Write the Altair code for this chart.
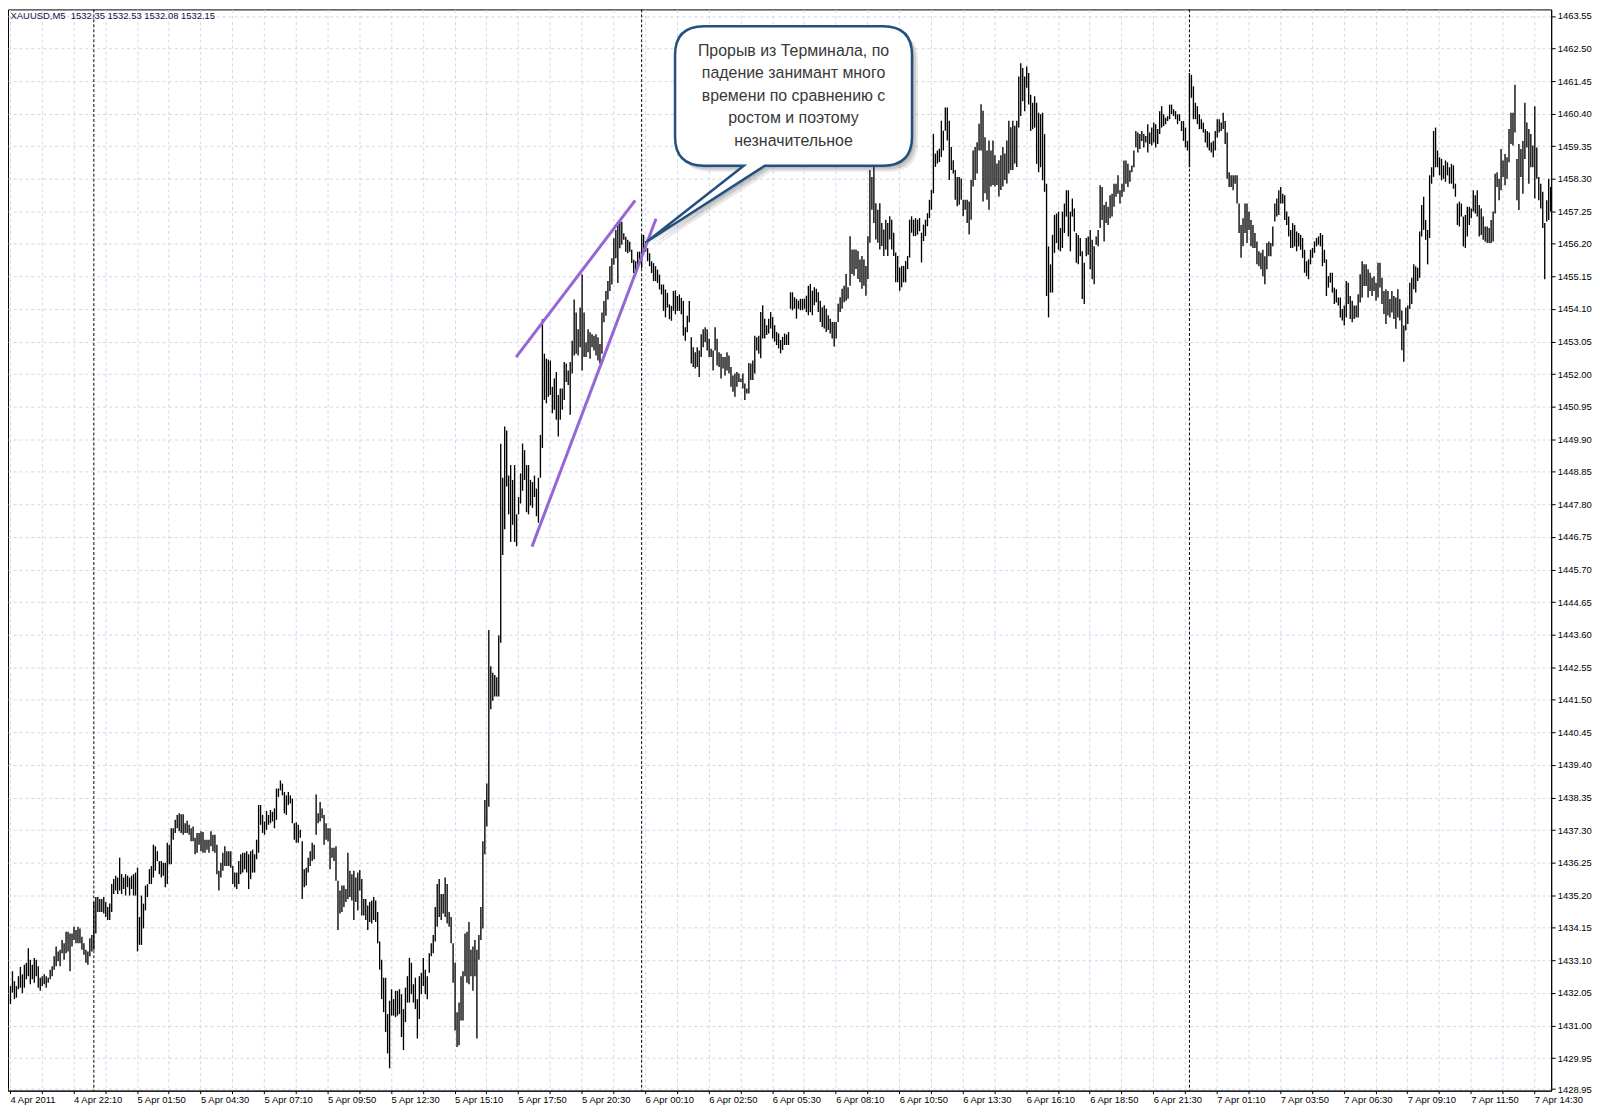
import json
import altair as alt
import pandas as pd

# ---------------- data (5-minute bars, high / low) ----------------
HIGH = [
    # 4 Apr 19:30 ... 5 Apr 15:30
    1432.27, 1432.75, 1432.43, 1432.27, 1432.59, 1432.89, 1432.65, 1432.96, 1433.02, 1433.49,
    1433.12, 1432.96, 1433.18, 1433.12, 1432.91, 1432.54, 1432.59, 1432.65, 1432.59, 1432.54,
    1432.80, 1432.91, 1433.23, 1433.55, 1433.39, 1433.44, 1433.76, 1433.65, 1434.02, 1434.02,
    1433.97, 1433.97, 1434.18, 1434.08, 1434.18, 1434.13, 1433.86, 1433.65, 1433.44, 1433.39,
    1433.81, 1433.92, 1434.98, 1435.14, 1435.14, 1435.08, 1435.08, 1435.14, 1434.98, 1434.82,
    1434.93, 1435.56, 1435.72, 1435.83, 1435.77, 1436.41, 1435.88, 1435.77, 1435.88, 1435.83,
    1435.77, 1435.83, 1435.88, 1435.93, 1436.09, 1434.50, 1435.19, 1434.93, 1435.51, 1435.56,
    1436.04, 1436.14, 1436.83, 1436.78, 1436.62, 1436.30, 1436.30, 1436.25, 1436.25, 1436.89,
    1436.83, 1437.36, 1437.36, 1437.63, 1437.79, 1437.84, 1437.81, 1437.81, 1437.52, 1437.60,
    1437.47, 1437.36, 1437.42, 1437.05, 1437.21, 1437.21, 1437.26, 1437.24, 1436.99, 1436.99,
    1436.99, 1437.26, 1437.15, 1437.15, 1436.83, 1435.99, 1436.25, 1436.57, 1436.78, 1436.62,
    1436.62, 1436.62, 1436.14, 1435.93, 1435.93, 1436.30, 1436.52, 1436.57, 1436.57, 1436.62,
    1436.52, 1436.62, 1436.67, 1436.52, 1436.99, 1438.11, 1438.11, 1437.79, 1437.58, 1437.92,
    1437.79, 1437.95, 1437.89, 1438.00, 1438.64, 1438.64, 1438.90, 1438.80, 1438.53, 1438.42,
    1438.53, 1438.42, 1438.32, 1437.52, 1437.55, 1437.47, 1437.31, 1436.94, 1436.04, 1436.09,
    1436.41, 1436.62, 1436.89, 1436.83, 1438.45, 1437.84, 1438.21, 1438.00, 1437.79, 1437.52,
    1437.36, 1437.36, 1436.73, 1436.73, 1436.78, 1435.67, 1435.35, 1435.51, 1435.51, 1435.40,
    1436.57, 1435.99, 1435.88, 1435.99, 1435.77, 1435.93, 1436.01, 1435.72, 1435.08, 1435.08,
    1434.87, 1434.98, 1435.03, 1435.14, 1435.03, 1434.66, 1433.71, 1433.12, 1432.54, 1432.54,
    1431.37, 1431.80, 1432.17, 1431.85, 1432.12, 1432.12, 1432.17, 1432.01, 1431.53, 1432.22,
    1432.59, 1433.18, 1433.02, 1432.33, 1432.54, 1431.85, 1432.59, 1432.70, 1433.18, 1432.80,
    1432.59, 1433.33, 1433.65, 1433.92, 1434.82, 1435.56, 1435.72, 1435.24, 1435.24, 1435.77,
    1435.56, 1434.66, 1434.50, 1433.65, 1433.02, 1431.43, 1431.74, 1432.59, 1432.75, 1433.97,
    1434.02, 1434.34, 1433.44, 1433.55, 1433.76, 1433.44, 1433.92, 1434.82, 1436.94, 1438.27,
    1438.80, 1443.75,
    # breakout
    1442.58, 1442.37, 1442.30, 1442.23, 1443.57, 1449.76, 1448.66, 1450.31, 1450.18, 1448.73,
    1449.07, 1448.59, 1449.07, 1447.48, 1448.04, 1448.80, 1449.76, 1449.55, 1449.07, 1449.07,
    1448.59, 1448.52, 1448.73, 1448.31, 1448.66, 1450.04,
    1453.77, 1452.66, 1452.50, 1452.47, 1452.44, 1451.59, 1451.86, 1452.07, 1451.33, 1451.54,
    1451.54, 1452.39, 1452.34, 1452.12, 1452.39, 1453.08, 1454.41, 1453.99, 1453.45, 1454.15,
    1455.21, 1453.99, 1453.03, 1453.45, 1453.35, 1453.29, 1453.24, 1453.29, 1453.19, 1452.97,
    1453.99, 1454.36, 1454.68, 1455.00, 1455.48, 1455.74, 1456.38, 1456.65, 1456.86, 1456.96,
    1456.91, 1456.54, 1456.43, 1456.33, 1456.27, 1456.01, 1455.69, 1455.64, 1455.95, 1455.95,
    1456.49, 1456.49, 1456.29, 1456.06, 1455.90, 1455.64, 1455.58, 1455.48, 1455.37, 1455.21,
    1454.89, 1454.89, 1454.73, 1454.62, 1454.25, 1454.20, 1454.68, 1454.70, 1454.52, 1454.57,
    1454.46, 1454.36, 1453.51, 1453.88, 1454.36, 1453.19, 1452.87, 1452.71, 1452.87, 1452.76,
    1453.29, 1453.45, 1453.51, 1453.45, 1453.14, 1452.82, 1452.76, 1453.51, 1453.14, 1452.71,
    1452.66, 1452.55, 1452.55, 1452.71, 1452.60, 1452.23, 1451.96, 1452.02, 1452.07, 1452.02,
    1451.86, 1452.02, 1451.70, 1451.54, 1452.36, 1452.34, 1452.44, 1453.24, 1453.19, 1453.24,
    # 6 Apr
    1454.00, 1454.22, 1453.79, 1453.58, 1453.79, 1454.00, 1453.84, 1453.58, 1453.36, 1453.31,
    1453.10, 1453.20, 1453.31, 1453.28, 1453.36, 1454.64, 1454.64, 1454.48, 1454.43, 1454.37,
    1454.43, 1454.43, 1454.43, 1454.53, 1454.85, 1454.91, 1454.69, 1454.80, 1454.75, 1454.64,
    1454.37, 1454.16, 1454.22, 1454.11, 1453.90, 1453.79, 1453.68, 1453.68, 1453.68, 1454.27,
    1454.48, 1454.75, 1454.85, 1455.23, 1454.80, 1456.45, 1456.02, 1456.02, 1456.02, 1455.97,
    1455.70, 1455.81, 1455.70, 1455.49, 1456.45, 1458.58, 1458.36, 1458.68, 1457.51, 1457.30,
    1457.51, 1456.87, 1456.66, 1456.98, 1456.87, 1457.09, 1456.98, 1456.56, 1455.92, 1455.81,
    1455.44, 1455.49, 1455.49, 1455.65, 1455.81, 1456.98, 1457.09, 1456.98, 1457.03, 1456.98,
    1457.03, 1456.56, 1456.82, 1456.98, 1457.19, 1457.62, 1457.94, 1459.75, 1459.11, 1459.21,
    1459.27, 1460.17, 1459.85, 1460.60, 1460.60, 1460.17, 1459.32, 1458.90, 1458.58, 1458.36,
    1458.36, 1458.31, 1457.62, 1457.62, 1457.62, 1457.57, 1458.26, 1459.21, 1459.32, 1459.48,
    1460.07, 1460.70, 1460.49, 1459.64, 1459.21, 1459.53, 1459.21, 1459.53, 1459.06, 1458.79,
    1458.90, 1459.06, 1459.32, 1459.11, 1459.53, 1460.17, 1459.96, 1460.17, 1460.01, 1460.17,
    1461.60, 1462.02, 1461.87, 1461.60, 1461.92, 1461.71, 1461.01, 1460.75, 1460.96, 1460.75,
    1460.43, 1460.38, 1460.43, 1459.74, 1458.14, 1456.12, 1455.54, 1456.49, 1457.13, 1457.18,
    1457.24, 1456.71, 1457.24, 1457.50, 1457.93, 1457.93, 1457.24, 1457.66, 1457.34, 1456.55,
    1456.49, 1456.39, 1455.96, 1455.59, 1456.39, 1456.44, 1456.65, 1456.33, 1456.12, 1456.44,
    1456.65, 1458.09, 1458.03, 1457.45, 1457.56, 1457.40, 1457.77, 1457.82, 1458.14, 1458.14,
    1458.41, 1457.93, 1458.14, 1458.89, 1458.89, 1458.78, 1458.57, 1458.73, 1459.21, 1459.84,
    1459.79, 1459.74, 1459.84, 1459.74, 1459.68, 1460.06, 1459.79, 1459.95, 1460.11, 1460.06,
    1459.90, 1460.48, 1460.64, 1460.38, 1460.27, 1460.32, 1460.69, 1460.69, 1460.54, 1460.48,
    1460.38, 1460.38, 1460.16, 1460.16, 1459.95, 1459.52,
    # 7 Apr
    1461.71, 1461.65, 1461.28, 1460.75,
    1460.64, 1460.38, 1460.22, 1460.11, 1459.90, 1459.84, 1459.79, 1459.47, 1459.52, 1459.84,
    1460.22, 1460.22, 1460.11, 1460.43, 1460.16, 1459.79, 1458.51, 1458.41, 1458.41, 1458.41,
    1458.41, 1457.50, 1456.81, 1457.03, 1457.50, 1457.50, 1457.24, 1456.97, 1456.81, 1456.55,
    1456.28, 1455.96, 1455.91, 1456.01, 1455.80, 1456.23, 1456.28, 1456.23, 1456.76, 1457.50,
    1457.66, 1457.93, 1458.03, 1457.82,
    1457.77, 1457.24, 1457.08, 1456.65, 1456.87, 1456.81, 1456.60, 1456.55, 1456.49, 1456.39,
    1456.01, 1455.64, 1455.70, 1456.01, 1456.07, 1456.28, 1456.39, 1456.44, 1456.55, 1456.49,
    1456.01, 1455.70, 1455.16, 1455.27, 1455.27, 1454.79, 1454.74, 1454.47, 1454.47, 1454.10,
    1454.21, 1455.00, 1454.95, 1454.52, 1454.37, 1454.21, 1454.21, 1454.58, 1455.22, 1455.64,
    1455.54, 1455.54, 1455.38, 1455.27, 1455.11, 1455.16, 1454.95, 1455.59, 1455.59, 1455.11,
    1454.68, 1454.74, 1454.68, 1454.42, 1454.68, 1454.52, 1454.47, 1454.74, 1454.42, 1454.05,
    1453.57, 1454.15, 1454.21, 1454.95, 1455.11, 1455.54, 1455.48, 1455.43, 1456.60, 1457.45,
    1457.72, 1456.97, 1456.65, 1458.41, 1458.67, 1459.84, 1459.95, 1459.21, 1458.99, 1458.94,
    1458.73, 1458.89, 1458.83, 1458.67, 1458.78, 1458.73, 1458.14, 1457.50, 1457.56, 1457.50,
    1457.08, 1457.13, 1457.40, 1457.40, 1457.34, 1457.93, 1457.77, 1457.93, 1457.45, 1457.34,
    1457.08, 1456.76, 1456.76, 1456.71, 1456.97, 1457.24, 1458.46, 1458.51, 1458.30, 1459.26,
    1458.89, 1459.10, 1458.99, 1459.90, 1460.43, 1460.43, 1461.33, 1458.94, 1459.42, 1459.26,
    1459.52, 1460.75, 1460.11, 1459.90, 1459.74, 1459.37, 1460.64, 1459.31, 1458.36, 1458.14,
    1457.88, 1456.87, 1457.61, 1458.30, 1458.03,
]

LOW = [
    1431.69, 1432.06, 1431.85, 1431.90, 1432.17, 1432.22, 1432.04, 1432.22, 1432.49, 1432.59,
    1432.33, 1432.49, 1432.38, 1432.59, 1432.22, 1432.12, 1432.27, 1432.33, 1432.22, 1432.38,
    1432.49, 1432.59, 1432.80, 1432.91, 1433.07, 1432.91, 1433.33, 1433.12, 1433.33, 1433.39,
    1432.75, 1433.55, 1433.76, 1433.65, 1433.65, 1433.65, 1433.44, 1433.28, 1433.02, 1432.96,
    1433.23, 1433.39, 1433.44, 1433.97, 1434.66, 1434.66, 1434.66, 1434.61, 1434.50, 1434.40,
    1434.40, 1434.66, 1435.24, 1435.35, 1435.24, 1435.35, 1435.24, 1435.40, 1435.19, 1435.46,
    1435.19, 1435.40, 1435.19, 1435.19, 1433.39, 1433.60, 1433.60, 1434.13, 1434.71, 1435.14,
    1435.56, 1435.56, 1435.77, 1435.99, 1436.30, 1435.88, 1435.77, 1435.83, 1435.46, 1435.56,
    1436.20, 1436.20, 1436.99, 1437.21, 1437.36, 1437.26, 1437.21, 1437.15, 1437.21, 1437.21,
    1437.15, 1436.94, 1436.94, 1436.52, 1436.57, 1436.83, 1436.62, 1436.57, 1436.57, 1436.67,
    1436.57, 1436.78, 1436.62, 1436.57, 1435.88, 1435.35, 1435.77, 1435.99, 1436.14, 1436.14,
    1436.14, 1436.09, 1435.56, 1435.46, 1435.40, 1435.56, 1435.88, 1435.93, 1436.04, 1435.93,
    1435.40, 1435.72, 1435.93, 1435.93, 1436.36, 1436.57, 1437.47, 1437.21, 1437.15, 1437.31,
    1437.47, 1437.52, 1437.58, 1437.36, 1437.63, 1438.37, 1438.58, 1438.42, 1437.84, 1437.79,
    1438.11, 1438.16, 1437.52, 1436.99, 1436.89, 1436.89, 1437.05, 1435.08, 1435.46, 1435.51,
    1435.93, 1436.14, 1436.30, 1436.36, 1437.15, 1437.52, 1437.58, 1437.68, 1436.83, 1436.99,
    1436.94, 1436.04, 1436.41, 1436.30, 1435.67, 1434.08, 1434.61, 1434.66, 1434.82, 1434.98,
    1435.08, 1435.14, 1435.03, 1434.40, 1434.98, 1434.71, 1435.35, 1434.55, 1434.55, 1434.40,
    1434.08, 1434.34, 1434.29, 1434.40, 1434.34, 1433.65, 1432.80, 1431.85, 1431.43, 1430.79,
    1430.10, 1429.62, 1431.32, 1431.32, 1431.27, 1431.32, 1431.37, 1430.63, 1430.21, 1431.11,
    1431.74, 1431.74, 1432.01, 1431.74, 1431.53, 1430.58, 1431.21, 1432.01, 1432.27, 1432.01,
    1431.85, 1432.70, 1433.23, 1433.33, 1433.71, 1434.18, 1434.50, 1434.40, 1434.61, 1434.50,
    1434.29, 1434.18, 1433.65, 1432.38, 1430.84, 1430.31, 1430.36, 1431.16, 1431.16, 1432.59,
    1432.38, 1432.33, 1432.59, 1432.12, 1432.59, 1430.58, 1433.12, 1433.76, 1434.13, 1436.52,
    1437.42, 1438.05,
    1441.20, 1441.47, 1441.61, 1441.61, 1441.61, 1443.34, 1446.17, 1447.00, 1448.38, 1447.48,
    1446.59, 1447.14, 1446.59, 1446.45, 1447.48, 1447.83, 1448.24, 1448.59, 1447.55, 1447.48,
    1447.76, 1447.69, 1448.04, 1447.42, 1447.21, 1448.66,
    1449.62, 1451.17, 1451.06, 1451.27, 1451.33, 1450.74, 1450.85, 1450.53, 1449.99, 1450.53,
    1450.85, 1451.17, 1451.75, 1451.65, 1450.69, 1452.02, 1452.60, 1452.66, 1452.60, 1452.87,
    1452.12, 1452.55, 1452.55, 1452.71, 1452.50, 1452.87, 1452.76, 1452.60, 1452.44, 1452.34,
    1452.66, 1453.67, 1453.88, 1454.41, 1454.68, 1454.89, 1455.53, 1455.74, 1454.94, 1456.06,
    1456.17, 1456.33, 1455.95, 1455.90, 1455.95, 1455.58, 1455.26, 1455.26, 1455.42, 1455.58,
    1455.42, 1455.95, 1455.95, 1455.64, 1455.48, 1455.26, 1455.00, 1455.00, 1454.94, 1454.73,
    1454.57, 1454.04, 1453.83, 1454.15, 1453.77, 1453.72, 1454.04, 1453.93, 1454.04, 1454.04,
    1453.93, 1453.24, 1453.08, 1453.35, 1453.67, 1452.34, 1452.23, 1452.18, 1452.23, 1451.91,
    1452.55, 1452.87, 1453.03, 1452.76, 1452.55, 1452.55, 1452.12, 1452.76, 1452.28, 1452.23,
    1451.86, 1452.18, 1451.96, 1452.12, 1452.02, 1451.59, 1451.43, 1451.27, 1451.59, 1451.75,
    1451.75, 1451.54, 1451.17, 1451.38, 1451.38, 1451.81, 1451.81, 1452.02, 1452.76, 1452.66,
    1452.51, 1453.15, 1453.15, 1453.26, 1453.31, 1453.47, 1453.15, 1453.05, 1452.94, 1452.83,
    1452.67, 1452.78, 1452.94, 1452.94, 1452.94, 1454.11, 1454.06, 1454.11, 1453.79, 1454.11,
    1454.06, 1454.06, 1454.11, 1454.00, 1453.90, 1454.00, 1453.90, 1454.22, 1454.32, 1454.00,
    1453.68, 1453.52, 1453.47, 1453.36, 1453.42, 1453.31, 1453.15, 1452.89, 1453.15, 1453.68,
    1454.00, 1454.11, 1454.32, 1454.37, 1454.43, 1454.85, 1455.23, 1455.17, 1455.39, 1455.07,
    1454.96, 1454.75, 1454.85, 1454.53, 1455.07, 1456.24, 1457.30, 1456.87, 1456.34, 1456.24,
    1456.02, 1456.13, 1455.81, 1456.02, 1455.81, 1456.34, 1456.02, 1455.81, 1454.96, 1454.96,
    1454.69, 1454.80, 1454.96, 1454.96, 1455.39, 1455.76, 1456.56, 1456.45, 1456.45, 1456.50,
    1456.61, 1455.60, 1456.29, 1456.45, 1456.77, 1457.03, 1457.30, 1457.83, 1458.68, 1458.79,
    1458.84, 1459.00, 1459.21, 1459.85, 1459.53, 1458.26, 1458.58, 1458.47, 1457.62, 1457.41,
    1457.46, 1457.62, 1457.09, 1457.30, 1456.87, 1456.50, 1456.98, 1458.05, 1458.26, 1458.47,
    1459.21, 1459.21, 1457.57, 1457.83, 1457.62, 1457.30, 1458.05, 1458.10, 1458.05, 1458.10,
    1457.73, 1457.94, 1458.05, 1458.26, 1458.15, 1458.47, 1458.58, 1458.58, 1458.79, 1458.68,
    1459.95, 1460.32, 1460.80, 1460.48, 1461.23, 1460.69, 1459.84, 1459.90, 1459.95, 1458.78,
    1458.51, 1458.67, 1458.25, 1457.88, 1454.52, 1453.83, 1454.63, 1454.63, 1455.91, 1456.23,
    1456.01, 1455.96, 1456.07, 1456.55, 1457.08, 1456.44, 1455.96, 1457.08, 1456.60, 1455.59,
    1455.54, 1455.80, 1454.42, 1454.26, 1455.80, 1455.85, 1455.38, 1455.06, 1454.90, 1456.17,
    1456.12, 1456.71, 1456.97, 1456.28, 1456.87, 1456.81, 1457.03, 1457.08, 1457.40, 1457.72,
    1457.82, 1457.50, 1457.72, 1457.88, 1458.14, 1458.03, 1458.20, 1458.51, 1458.67, 1459.31,
    1459.15, 1459.26, 1459.52, 1459.31, 1459.47, 1459.15, 1459.42, 1459.37, 1459.47, 1459.31,
    1459.42, 1459.74, 1459.95, 1460.00, 1460.06, 1460.16, 1460.22, 1460.38, 1460.32, 1460.22,
    1460.06, 1460.16, 1459.84, 1459.52, 1459.31, 1459.21,
    1458.67, 1460.91, 1460.22, 1460.22,
    1460.06, 1459.90, 1459.90, 1459.79, 1459.47, 1459.31, 1459.21, 1459.15, 1458.99, 1459.21,
    1459.63, 1459.79, 1459.84, 1459.90, 1459.42, 1458.30, 1458.03, 1458.03, 1457.93, 1458.14,
    1457.50, 1456.55, 1455.75, 1456.12, 1456.55, 1456.23, 1456.65, 1456.12, 1456.07, 1456.07,
    1455.54, 1455.48, 1455.38, 1455.16, 1454.90, 1455.38, 1455.80, 1455.80, 1456.12, 1456.92,
    1457.08, 1457.13, 1457.50, 1457.50,
    1456.97, 1456.81, 1456.44, 1456.07, 1456.07, 1456.12, 1455.96, 1456.12, 1456.01, 1455.75,
    1455.27, 1455.16, 1455.06, 1455.54, 1455.75, 1455.91, 1456.12, 1456.17, 1456.12, 1455.48,
    1455.59, 1454.52, 1454.79, 1454.95, 1454.63, 1454.26, 1454.31, 1454.21, 1453.83, 1453.73,
    1453.57, 1453.83, 1454.26, 1453.78, 1453.67, 1453.78, 1453.83, 1453.83, 1454.31, 1454.47,
    1454.84, 1454.84, 1454.47, 1454.68, 1454.52, 1454.68, 1454.37, 1454.47, 1454.79, 1454.26,
    1453.94, 1453.62, 1453.89, 1453.83, 1453.99, 1453.78, 1453.46, 1453.83, 1453.73, 1452.77,
    1452.40, 1453.41, 1453.62, 1454.10, 1454.26, 1454.74, 1454.63, 1455.00, 1455.11, 1456.44,
    1456.65, 1456.33, 1455.54, 1456.39, 1458.14, 1458.36, 1458.67, 1458.67, 1458.41, 1458.25,
    1458.30, 1458.20, 1458.41, 1458.14, 1458.14, 1457.98, 1457.72, 1456.81, 1456.76, 1457.08,
    1456.12, 1456.07, 1456.44, 1456.81, 1457.03, 1457.24, 1457.18, 1457.08, 1456.44, 1456.49,
    1456.33, 1456.28, 1456.23, 1456.23, 1456.23, 1456.28, 1457.18, 1458.03, 1457.61, 1457.93,
    1458.36, 1458.09, 1458.30, 1458.83, 1459.42, 1459.37, 1459.79, 1457.61, 1457.29, 1458.36,
    1457.82, 1458.94, 1459.31, 1458.14, 1458.67, 1458.67, 1457.66, 1458.30, 1457.61, 1457.34,
    1456.71, 1455.06, 1456.92, 1456.97, 1457.24,
]

TIME_LABELS = [
    "4 Apr 2011", "4 Apr 22:10", "5 Apr 01:50", "5 Apr 04:30", "5 Apr 07:10",
    "5 Apr 09:50", "5 Apr 12:30", "5 Apr 15:10", "5 Apr 17:50", "5 Apr 20:30",
    "6 Apr 00:10", "6 Apr 02:50", "6 Apr 05:30", "6 Apr 08:10", "6 Apr 10:50",
    "6 Apr 13:30", "6 Apr 16:10", "6 Apr 18:50", "6 Apr 21:30", "7 Apr 01:10",
    "7 Apr 03:50", "7 Apr 06:30", "7 Apr 09:10", "7 Apr 11:50", "7 Apr 14:30",
]
BARS_PER_LABEL = 32
BARS_PER_GRID = 16

PRICE_TICKS = [
    1463.55, 1462.50, 1461.45, 1460.40, 1459.35, 1458.30, 1457.25, 1456.20, 1455.15,
    1454.10, 1453.05, 1452.00, 1450.95, 1449.90, 1448.85, 1447.80, 1446.75, 1445.70,
    1444.65, 1443.60, 1442.55, 1441.50, 1440.45, 1439.40, 1438.35, 1437.30, 1436.25,
    1435.20, 1434.15, 1433.10, 1432.05, 1431.00, 1429.95, 1428.95,
]

DAY_SEPARATORS = [42, 318, 594]

TREND_START_BAR = [255.0, 263.0]
TREND_END_BAR = [315.0, 325.5]
TREND_START_PRICE = [1452.55, 1446.44]
TREND_END_PRICE = [1457.60, 1457.01]

HEADER = "XAUUSD,M5\u00a0 1532.35 1532.53 1532.08 1532.15"
CALLOUT_LINES = [
    "Прорыв из Терминала, по",
    "падение занимант много",
    "времени по сравнению с",
    "ростом и поэтому",
    "незначительное",
]
CALLOUT_TARGET_BAR = 320.85
CALLOUT_TARGET_PRICE = 1456.27

# ---------------- layout ----------------
W, H = 1550, 1086
X_DOMAIN = [-1.0, 776.5]
Y_DOMAIN = [1428.90, 1463.759]
FONT = "Liberation Sans"
GRID_COLOR = "#d4d4f0"

n = min(len(HIGH), len(LOW))
bars_df = pd.DataFrame({"bar": list(range(n)), "high": HIGH[:n], "low": LOW[:n]})

xs = alt.Scale(domain=X_DOMAIN, nice=False, zero=False)
ys = alt.Scale(domain=Y_DOMAIN, nice=False, zero=False)

label_expr = (
    f"datum.value % {BARS_PER_LABEL} == 0 ? "
    f"{json.dumps(TIME_LABELS, ensure_ascii=False)}[datum.value / {BARS_PER_LABEL}] : ''"
)

x_axis = alt.Axis(
    values=list(range(0, n, BARS_PER_GRID)),
    labelExpr=label_expr,
    title=None,
    grid=True, gridColor=GRID_COLOR, gridDash=[3, 3], gridWidth=1,
    domainColor="black", tickColor="black", tickSize=3,
    labelAlign="left", labelBaseline="top", labelPadding=1,
    labelFont=FONT, labelFontSize=9.5, labelColor="black",
    labelOverlap=False, labelFlush=False,
)
y_axis = alt.Axis(
    orient="right",
    values=PRICE_TICKS, format=".2f",
    title=None,
    grid=True, gridColor=GRID_COLOR, gridDash=[3, 3], gridWidth=1,
    domainColor="black", tickColor="black", tickSize=4,
    labelAlign="left", labelPadding=2,
    labelFont=FONT, labelFontSize=9.5, labelColor="black",
    labelOverlap=False, labelFlush=False,
)

bars = alt.Chart(bars_df).mark_rule(color="black", strokeWidth=1.35, xOffset=0.5).encode(
    x=alt.X("bar:Q", scale=xs, axis=x_axis),
    y=alt.Y("low:Q", scale=ys, axis=y_axis),
    y2="high:Q",
)

separators = alt.Chart(pd.DataFrame({"bar": DAY_SEPARATORS})).mark_rule(
    color="black", strokeWidth=1, strokeDash=[3, 2], xOffset=0.5
).encode(x=alt.X("bar:Q", scale=xs, axis=x_axis))

trend_df = pd.DataFrame({
    "x1": TREND_START_BAR, "x2": TREND_END_BAR,
    "y1": TREND_START_PRICE, "y2": TREND_END_PRICE,
})
trends = alt.Chart(trend_df).mark_rule(color="#9467d4", strokeWidth=3).encode(
    x=alt.X("x1:Q", scale=xs, axis=x_axis), x2="x2:Q",
    y=alt.Y("y1:Q", scale=ys, axis=y_axis), y2="y2:Q",
)

# ---------------- callout (annotation, pixel geometry) ----------------
tip_x = (CALLOUT_TARGET_BAR - X_DOMAIN[0]) / (X_DOMAIN[1] - X_DOMAIN[0]) * W
tip_y = (Y_DOMAIN[1] - CALLOUT_TARGET_PRICE) / (Y_DOMAIN[1] - Y_DOMAIN[0]) * H
BOX_L, BOX_R, BOX_T, BOX_B, RAD = 670.0, 908.0, 17.0, 157.0, 29.0
BASE_L, BASE_R = 739.0, 760.0
CX, CY = (BOX_L + BOX_R) / 2, (BOX_T + BOX_B) / 2


def pt(x, y):
    return f"{x - CX:.1f},{y - CY:.1f}"


bubble_path = (
    f"M{pt(BOX_L + RAD, BOX_T)}L{pt(BOX_R - RAD, BOX_T)}"
    f"Q{pt(BOX_R, BOX_T)} {pt(BOX_R, BOX_T + RAD)}"
    f"L{pt(BOX_R, BOX_B - RAD)}Q{pt(BOX_R, BOX_B)} {pt(BOX_R - RAD, BOX_B)}"
    f"L{pt(BASE_R, BOX_B)}L{pt(tip_x, tip_y)}L{pt(BASE_L, BOX_B)}"
    f"L{pt(BOX_L + RAD, BOX_B)}Q{pt(BOX_L, BOX_B)} {pt(BOX_L, BOX_B - RAD)}"
    f"L{pt(BOX_L, BOX_T + RAD)}Q{pt(BOX_L, BOX_T)} {pt(BOX_L + RAD, BOX_T)}Z"
)

one = pd.DataFrame({"k": [0]})
shadows = [
    alt.Chart(one).mark_point(
        shape=bubble_path, size=4, filled=True, fill="#404040", opacity=op, strokeWidth=0
    ).encode(x=alt.value(CX + d), y=alt.value(CY + d))
    for d, op in [(2, 0.16), (4, 0.16), (6, 0.12)]
]
bubble = alt.Chart(one).mark_point(
    shape=bubble_path, size=4, filled=True, fill="white", opacity=1,
    stroke="#22507f", strokeWidth=2.5,
).encode(x=alt.value(CX), y=alt.value(CY))

callout_text = alt.Chart(one).mark_text(
    text=CALLOUT_LINES, align="center", baseline="middle",
    font=FONT, fontSize=16, lineHeight=22.6, color="#383838",
).encode(x=alt.value(CX), y=alt.value(41.6))

header = alt.Chart(one).mark_text(
    text=HEADER, align="left", baseline="middle",
    font=FONT, fontSize=9.5, color="#101040",
).encode(x=alt.value(2.5), y=alt.value(6.5))

chart = (
    alt.layer(bars, separators, trends, *shadows, bubble, callout_text, header)
    .properties(width=W, height=H, padding={"top": -2, "left": 0, "right": 0, "bottom": 0})
    .configure(background="white")
    .configure_view(stroke="black", strokeWidth=1)
)

chart.save("out.html", embed_options={"renderer": "svg", "actions": False})
